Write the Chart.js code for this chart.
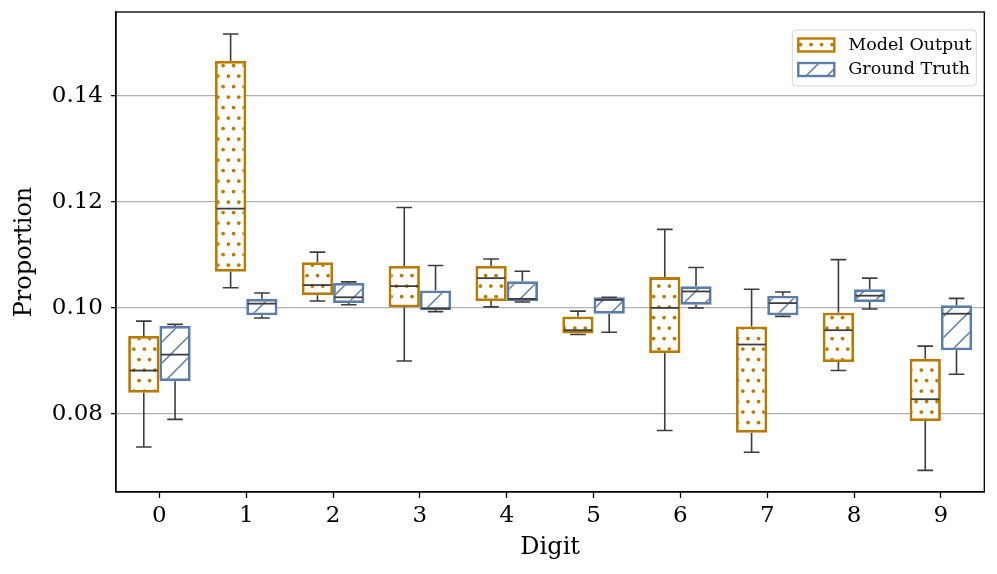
<!DOCTYPE html>
<html>
<head>
<meta charset="utf-8">
<script src="https://cdn.jsdelivr.net/npm/chart.js@4.4.0/dist/chart.umd.min.js"></script>
<style>
  html, body { margin: 0; padding: 0; background: #fff; }
  #wrap { width: 997px; height: 574px; }
</style>
</head>
<body>
<div id="wrap"><canvas id="boxChart"></canvas></div>
<script>
// Datos
const digits = ['0', '1', '2', '3', '4', '5', '6', '7', '8', '9'];
const seriesNames = ['Model Output', 'Ground Truth'];
const yTicks = [0.08, 0.10, 0.12, 0.14];

const modelLow    = [0.0738, 0.1038, 0.1013, 0.0900, 0.1002, 0.0950, 0.0769, 0.0728, 0.0882, 0.0694];
const modelQ1     = [0.0840, 0.1068, 0.1024, 0.1001, 0.1013, 0.0952, 0.0915, 0.0765, 0.0898, 0.0787];
const modelMedian = [0.0882, 0.1187, 0.1043, 0.1041, 0.1056, 0.0958, 0.1000, 0.0931, 0.0958, 0.0828];
const modelQ3     = [0.0947, 0.1465, 0.1086, 0.1079, 0.1079, 0.0984, 0.1058, 0.0965, 0.0991, 0.0904];
const modelHigh   = [0.0975, 0.1516, 0.1105, 0.1189, 0.1092, 0.0994, 0.1148, 0.1035, 0.1091, 0.0928];

const truthLow    = [0.0790, 0.0981, 0.1006, 0.0993, 0.1011, 0.0954, 0.1000, 0.0984, 0.0998, 0.0875];
const truthQ1     = [0.0862, 0.0986, 0.1009, 0.0996, 0.1013, 0.0989, 0.1006, 0.0986, 0.1011, 0.0920];
const truthMedian = [0.0912, 0.1008, 0.1020, 0.0999, 0.1017, 0.1015, 0.1031, 0.1009, 0.1023, 0.0989];
const truthQ3     = [0.0966, 0.1017, 0.1047, 0.1033, 0.1050, 0.1020, 0.1041, 0.1023, 0.1035, 0.1005];
const truthHigh   = [0.0969, 0.1028, 0.1049, 0.1080, 0.1069, 0.1020, 0.1076, 0.1030, 0.1056, 0.1018];

const ORANGE = '#b97a00';
const BLUE = '#5a7ea8';
const WHISKER = '#3d3d3d';
const FONT = '"DejaVu Serif", serif';

// Tramas tipo hatch de matplotlib
function dotPattern(color) {
    const c = document.createElement('canvas');
    c.width = 21; c.height = 21;
    const g = c.getContext('2d');
    g.fillStyle = '#fff';
    g.fillRect(0, 0, 21, 21);
    g.fillStyle = color;
    [[2.6, 2.6], [13.1, 2.6], [7.85, 13.1], [18.35, 13.1]].forEach(([x, y]) => {
        g.beginPath();
        g.arc(x, y, 1.9, 0, Math.PI * 2);
        g.fill();
    });
    return g.createPattern(c, 'repeat');
}

function slashPattern(color) {
    const c = document.createElement('canvas');
    c.width = 21; c.height = 21;
    const g = c.getContext('2d');
    g.fillStyle = '#fff';
    g.fillRect(0, 0, 21, 21);
    g.strokeStyle = color;
    g.lineWidth = 1.5;
    g.beginPath();
    g.moveTo(-1, 22); g.lineTo(22, -1);
    g.moveTo(-2, 2); g.lineTo(2, -2);
    g.moveTo(19, 23); g.lineTo(23, 19);
    g.stroke();
    return g.createPattern(c, 'repeat');
}

const boxStats = [
    { low: modelLow, q1: modelQ1, med: modelMedian, q3: modelQ3, high: modelHigh },
    { low: truthLow, q1: truthQ1, med: truthMedian, q3: truthQ3, high: truthHigh }
];

const boxExtras = {
    id: 'boxExtras',
    afterDatasetsDraw(chart) {
        const ctx = chart.ctx;
        const y = chart.scales.y;
        ctx.save();
        ctx.strokeStyle = WHISKER;
        boxStats.forEach((s, d) => {
            chart.getDatasetMeta(d).data.forEach((bar, i) => {
                const half = bar.width / 2;
                const cap = bar.width / 4;
                const yLow = y.getPixelForValue(s.low[i]);
                const yQ1 = y.getPixelForValue(s.q1[i]);
                const yMed = y.getPixelForValue(s.med[i]);
                const yQ3 = y.getPixelForValue(s.q3[i]);
                const yHigh = y.getPixelForValue(s.high[i]);
                ctx.lineWidth = 1.6;
                ctx.beginPath();
                ctx.moveTo(bar.x, yQ3); ctx.lineTo(bar.x, yHigh);
                ctx.moveTo(bar.x - cap, yHigh); ctx.lineTo(bar.x + cap, yHigh);
                ctx.moveTo(bar.x, yQ1); ctx.lineTo(bar.x, yLow);
                ctx.moveTo(bar.x - cap, yLow); ctx.lineTo(bar.x + cap, yLow);
                ctx.stroke();
                ctx.lineWidth = 1.8;
                ctx.beginPath();
                ctx.moveTo(bar.x - half + 1.5, yMed); ctx.lineTo(bar.x + half - 1.5, yMed);
                ctx.stroke();
            });
        });
        // marco completo del área
        const a = chart.chartArea;
        ctx.strokeStyle = '#000';
        ctx.lineWidth = 1.3;
        ctx.strokeRect(a.left, a.top, a.right - a.left, a.bottom - a.top);
        ctx.restore();
    },
    afterDraw(chart) {
        // leyenda dentro del área, arriba a la derecha
        const ctx = chart.ctx;
        const a = chart.chartArea;
        const w = 184, h = 56;
        const x0 = a.right - 8 - w, y0 = a.top + 18;
        ctx.save();
        ctx.beginPath();
        ctx.roundRect(x0, y0, w, h, 4);
        ctx.fillStyle = 'rgba(255,255,255,0.8)';
        ctx.fill();
        ctx.strokeStyle = '#d4d4d4';
        ctx.lineWidth = 1;
        ctx.stroke();
        ctx.font = '17.5px ' + FONT;
        ctx.textBaseline = 'middle';
        chart.data.datasets.forEach((ds, i) => {
            const cy = y0 + 15 + i * 24.5;
            ctx.fillStyle = ds.backgroundColor;
            ctx.fillRect(x0 + 6, cy - 6.5, 36, 13);
            ctx.strokeStyle = ds.borderColor;
            ctx.lineWidth = 2.4;
            ctx.strokeRect(x0 + 6, cy - 6.5, 36, 13);
            ctx.fillStyle = '#000';
            ctx.fillText(ds.label, x0 + 56, cy);
        });
        ctx.restore();
    }
};

function noScalePadding(s) {
    s.paddingTop = 0;
    s.paddingBottom = 0;
    s.paddingLeft = 0;
    s.paddingRight = 0;
}

const ctx = document.getElementById('boxChart').getContext('2d');
const chart = new Chart(ctx, {
    type: 'bar',
    data: {
        labels: digits,
        datasets: [{
            label: seriesNames[0],
            data: digits.map((_, i) => [modelQ1[i], modelQ3[i]]),
            backgroundColor: dotPattern(ORANGE),
            borderColor: ORANGE,
            borderWidth: 2.8,
            borderSkipped: false
        }, {
            label: seriesNames[1],
            data: digits.map((_, i) => [truthQ1[i], truthQ3[i]]),
            backgroundColor: slashPattern(BLUE),
            borderColor: BLUE,
            borderWidth: 2.8,
            borderSkipped: false
        }]
    },
    options: {
        responsive: true,
        maintainAspectRatio: false,
        devicePixelRatio: 1,
        animation: false,
        categoryPercentage: 0.72,
        barPercentage: 1.0,
        layout: { padding: { left: 0, top: 12, right: 12.7, bottom: 0 } },
        plugins: {
            legend: { display: false },
            tooltip: { enabled: false }
        },
        scales: {
            x: {
                offset: true,
                grid: { display: true, offset: false, drawOnChartArea: false, drawTicks: true, tickLength: 6, tickColor: '#000', tickWidth: 1.3 },
                border: { display: true, color: '#000', width: 1.3 },
                ticks: { color: '#000', font: { family: FONT, size: 23 }, padding: 4, maxRotation: 0 },
                title: { display: true, text: 'Digit', color: '#000', font: { family: FONT, size: 24 }, padding: { top: 0, bottom: 12 } },
                afterFit: s => { s.height = 82; noScalePadding(s); }
            },
            y: {
                min: 0.06532,
                max: 0.15574,
                afterBuildTicks: s => { s.ticks = yTicks.map(v => ({ value: v })); },
                grid: { color: '#b0b0b0', lineWidth: 1.3, tickColor: '#000', tickWidth: 1.3, tickLength: 5 },
                border: { display: true, color: '#000', width: 1.3 },
                ticks: { color: '#000', font: { family: FONT, size: 23 }, padding: 8, callback: v => v.toFixed(2) },
                title: { display: true, text: 'Proportion', color: '#000', font: { family: FONT, size: 24 }, padding: { top: 10, bottom: 0 } },
                afterFit: s => { s.width = 116; noScalePadding(s); }
            }
        }
    },
    plugins: [boxExtras]
});
</script>
</body>
</html>
